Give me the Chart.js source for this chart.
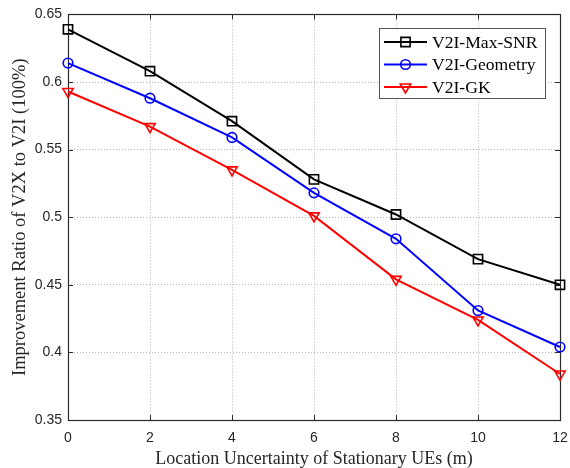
<!DOCTYPE html>
<html>
<head>
<meta charset="utf-8">
<script src="https://cdn.jsdelivr.net/npm/chart.js@4/dist/chart.umd.min.js"></script>
<style>
  html, body { margin: 0; padding: 0; background: #fff; }
  #wrap { width: 570px; height: 468px; }
</style>
</head>
<body>
<div id="wrap"><canvas id="chart" width="570" height="468"></canvas></div>
<script>
// datos
const uncertainty = [0, 2, 4, 6, 8, 10, 12];
const maxSnr = [0.639, 0.608, 0.571, 0.528, 0.502, 0.469, 0.450];
const geometry = [0.614, 0.588, 0.559, 0.518, 0.484, 0.431, 0.404];
const gk = [0.593, 0.567, 0.535, 0.501, 0.454, 0.424, 0.384];
const seriesNames = ['V2I-Max-SNR', 'V2I-Geometry', 'V2I-GK'];
const xTicks = [0, 2, 4, 6, 8, 10, 12];
const yTicks = [0.35, 0.4, 0.45, 0.5, 0.55, 0.6, 0.65];

const serif = "'Liberation Serif', 'Times New Roman', serif";
const sans = "'Liberation Sans', Arial, sans-serif";

const toPoints = vals => vals.map((v, i) => ({ x: uncertainty[i], y: v }));

function serie(label, vals, color, style, radius, rotation) {
  return {
    label: label,
    data: toPoints(vals),
    borderColor: color,
    backgroundColor: 'rgba(0,0,0,0)',
    borderWidth: 2,
    pointStyle: style,
    pointRadius: radius,
    pointRotation: rotation,
    pointBorderWidth: 1.6,
    pointBorderColor: color,
    pointBackgroundColor: 'rgba(0,0,0,0)',
    tension: 0,
    clip: false
  };
}

// caja del eje y marcas hacia dentro (estilo MATLAB)
const boxPlugin = {
  id: 'boxPlugin',
  beforeDatasetsDraw(chart) {
    const { ctx, chartArea: a, scales } = chart;
    ctx.save();
    ctx.strokeStyle = '#2a2a2a';
    ctx.lineWidth = 1;
    ctx.beginPath();
    xTicks.forEach(t => {
      const px = Math.round(scales.x.getPixelForValue(t)) + 0.5;
      ctx.moveTo(px, a.bottom); ctx.lineTo(px, a.bottom - 5);
      ctx.moveTo(px, a.top); ctx.lineTo(px, a.top + 5);
    });
    yTicks.forEach(t => {
      const py = Math.round(scales.y.getPixelForValue(t)) + 0.5;
      ctx.moveTo(a.left, py); ctx.lineTo(a.left + 5, py);
      ctx.moveTo(a.right, py); ctx.lineTo(a.right - 5, py);
    });
    ctx.stroke();
    ctx.lineWidth = 1.2;
    ctx.strokeRect(Math.round(a.left) + 0.5, Math.round(a.top) + 0.5,
      Math.round(a.right - a.left), Math.round(a.bottom - a.top));
    ctx.restore();
  }
};

// leyenda dibujada a mano
const legendPlugin = {
  id: 'legendPlugin',
  afterDraw(chart) {
    const ctx = chart.ctx;
    const bx = 379, by = 28, bw = 166, bh = 70;
    ctx.save();
    ctx.fillStyle = '#fff';
    ctx.fillRect(bx, by, bw, bh);
    ctx.strokeStyle = '#555';
    ctx.lineWidth = 1;
    ctx.strokeRect(bx + 0.5, by + 0.5, bw, bh);
    ctx.font = '17.6px ' + serif;
    ctx.textBaseline = 'middle';
    chart.data.datasets.forEach((ds, i) => {
      const y = 42 + i * 22.5;
      ctx.strokeStyle = ds.borderColor;
      ctx.lineWidth = 2;
      ctx.beginPath();
      ctx.moveTo(384, y); ctx.lineTo(427, y);
      ctx.stroke();
      ctx.lineWidth = ds.pointBorderWidth;
      ctx.fillStyle = 'rgba(0,0,0,0)';
      Chart.helpers.drawPoint(ctx, {
        pointStyle: ds.pointStyle,
        rotation: ds.pointRotation,
        radius: ds.pointRadius,
        borderWidth: ds.pointBorderWidth
      }, 405.5, y);
      ctx.fillStyle = '#000';
      ctx.fillText(ds.label, 432, y + 1);
    });
    ctx.restore();
  }
};

new Chart(document.getElementById('chart').getContext('2d'), {
  type: 'line',
  data: {
    datasets: [
      serie(seriesNames[0], maxSnr, '#000000', 'rect', 6.5, 0),
      serie(seriesNames[1], geometry, '#0000ff', 'circle', 4.8, 0),
      serie(seriesNames[2], gk, '#ff0000', 'triangle', 6, 180)
    ]
  },
  options: {
    responsive: false,
    animation: false,
    layout: { padding: { top: 13, right: 10, left: 0, bottom: 0 } },
    plugins: {
      legend: { display: false },
      tooltip: { enabled: false }
    },
    scales: {
      x: {
        type: 'linear',
        min: 0,
        max: 12,
        afterBuildTicks: s => { s.ticks = xTicks.map(v => ({ value: v })); },
        afterFit: s => { s.height = 48; s.paddingLeft = 0; s.paddingRight = 0; },
        grid: { color: '#b5b5b5', lineWidth: 1, drawTicks: false },
        border: { display: false, dash: [1, 2] },
        ticks: { color: '#262626', font: { family: sans, size: 14 }, padding: 10, maxRotation: 0 },
        title: {
          display: true,
          text: 'Location Uncertainty of Stationary UEs (m)',
          color: '#262626',
          font: { family: serif, size: 18, lineHeight: 1 },
          padding: { top: 0, bottom: 0 }
        }
      },
      y: {
        min: 0.35,
        max: 0.65,
        afterBuildTicks: s => { s.ticks = yTicks.map(v => ({ value: v })); },
        afterFit: s => { s.width = 68; },
        grid: { color: '#b5b5b5', lineWidth: 1, drawTicks: false },
        border: { display: false, dash: [1, 2] },
        ticks: {
          color: '#262626',
          font: { family: sans, size: 14 },
          padding: 6,
          callback: v => String(parseFloat(v.toFixed(2)))
        },
        title: {
          display: true,
          text: 'Improvement Ratio of V2X to V2I (100%)',
          color: '#262626',
          font: { family: serif, size: 18.5, lineHeight: 1 },
          padding: { top: 10.5, bottom: 0 }
        }
      }
    }
  },
  plugins: [boxPlugin, legendPlugin]
});
</script>
</body>
</html>
